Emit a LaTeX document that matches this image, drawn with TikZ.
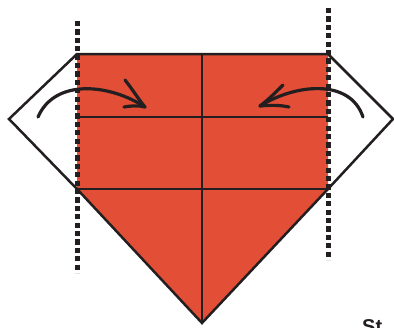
\documentclass[tikz,border=0pt]{standalone}
\usepackage{fontspec}
\setsansfont{Liberation Sans}
\definecolor{paper}{HTML}{E34E36}
\definecolor{ink}{HTML}{231F20}
\begin{document}
\begin{tikzpicture}[x=1pt,y=-1pt,
  fold/.style={draw=ink,line width=2.5pt,line join=miter},
  crease/.style={draw=ink,line width=2.5pt},
  guide/.style={draw=ink,line width=5pt,dash pattern=on 5.2pt off 3.2pt},
  move/.style={draw=ink,line width=3.2pt,line cap=round,line join=round}]
\useasboundingbox (0,0) rectangle (394,327);
\coordinate (tl) at (77,54);
\coordinate (tr) at (328,54);
\coordinate (ml) at (77,189);
\coordinate (mr) at (328,189);
\coordinate (bot) at (202,323);
\coordinate (lp) at (9,119);
\coordinate (rp) at (393,119);
\fill[paper] (tl) -- (tr) -- (mr) -- (bot) -- (ml) -- cycle;
\draw[fold] (ml) -- (lp) -- (tl) -- (tr) -- (rp) -- (mr) -- (bot) -- cycle;
\draw[crease] (77,117) -- (328,117);
\draw[crease] (ml) -- (mr);
\draw[crease] (202,54) -- (bot);
\draw[guide] (77,21) -- (77,273);
\draw[guide] (328,8) -- (328,260);
\draw[move] (38,117) .. controls (55,78) and (110,84) .. (145,107);
\draw[move] (125,80) .. controls (133,90) and (139,100) .. (145,107) .. controls (137,105) and (130,106) .. (124,107);
\draw[move] (363,117) .. controls (350,78) and (295,84) .. (260,106);
\draw[move] (283,85) .. controls (276,92) and (268,100) .. (260,106) .. controls (270,105) and (280,105) .. (289,107);
\node[anchor=base west,inner sep=0pt,font=\sffamily\bfseries\fontsize{20}{24}\selectfont,text=ink] (st) at (362,333) {St};
\end{tikzpicture}
\end{document}
